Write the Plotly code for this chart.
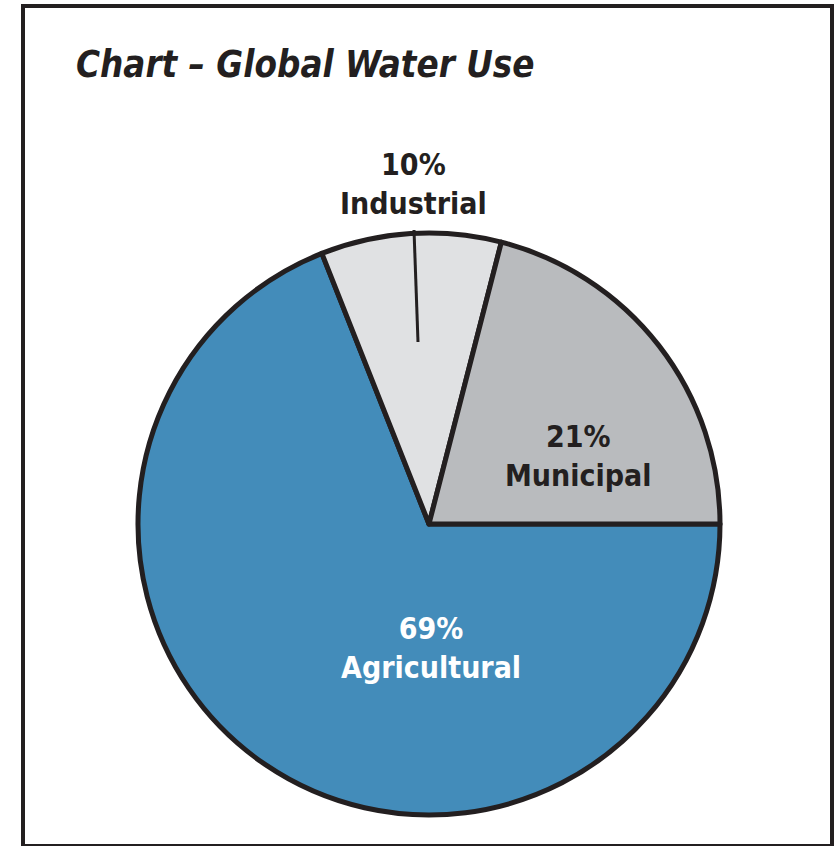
import plotly.graph_objects as go

W, H = 835, 846

categories = ["Agricultural", "Industrial", "Municipal"]
shares = [69, 10, 21]
slice_colors = ["#438CBA", "#E0E1E3", "#B9BBBE"]
label_colors = ["#FFFFFF", "#231F20", "#231F20"]
title_text = "Chart – Global Water Use"

FONT = "Liberation Sans Narrow, DejaVu Sans Condensed, Arial Narrow, sans-serif"

# pie geometry in pixels (centre and radius), converted to paper domain
cx, cy, r = 429, 524, 291
dom_x = [(cx - r) / W, (cx + r) / W]
dom_y = [1 - (cy + r) / H, 1 - (cy - r) / H]

fig = go.Figure(
    go.Pie(
        labels=categories,
        values=shares,
        sort=False,
        direction="clockwise",
        rotation=90,
        marker=dict(colors=slice_colors, line=dict(color="#231F20", width=5)),
        textinfo="none",
        hoverinfo="label+percent",
        showlegend=False,
        domain=dict(x=dom_x, y=dom_y),
    )
)

# label positions (pixels) for each slice
label_px = {"Agricultural": (431, 648), "Industrial": (413, 184), "Municipal": (578, 456)}
annotations = []
for cat, val, col in zip(categories, shares, label_colors):
    px, py = label_px[cat]
    annotations.append(
        dict(
            x=px / W, y=1 - py / H, xref="paper", yref="paper",
            text=f"<b>{val}%<br>{cat}</b>", showarrow=False,
            font=dict(family=FONT, size=30, color=col),
            xanchor="center", yanchor="middle", align="center",
        )
    )

annotations.append(
    dict(
        x=74 / W, y=1 - 64 / H, xref="paper", yref="paper",
        text=f"<b><i>{title_text}</i></b>", showarrow=False,
        font=dict(family=FONT, size=36.4, color="#231F20"),
        xanchor="left", yanchor="middle",
    )
)

shapes = [
    # outer frame
    dict(type="rect", xref="paper", yref="paper",
         x0=23 / W, x1=832 / W, y0=1 - 846 / H, y1=1 - 6 / H,
         line=dict(color="#231F20", width=4), fillcolor="rgba(0,0,0,0)", layer="below"),
    # leader line for Industrial
    dict(type="line", xref="paper", yref="paper",
         x0=414 / W, y0=1 - 230 / H, x1=418 / W, y1=1 - 342 / H,
         line=dict(color="#231F20", width=3)),
]

fig.update_layout(
    width=W, height=H,
    margin=dict(l=0, r=0, t=0, b=0),
    paper_bgcolor="white", plot_bgcolor="white",
    annotations=annotations, shapes=shapes,
)

fig.write_html(
    "out.html",
    config={"displayModeBar": False},
    post_script="document.body.style.margin='0';",
)
